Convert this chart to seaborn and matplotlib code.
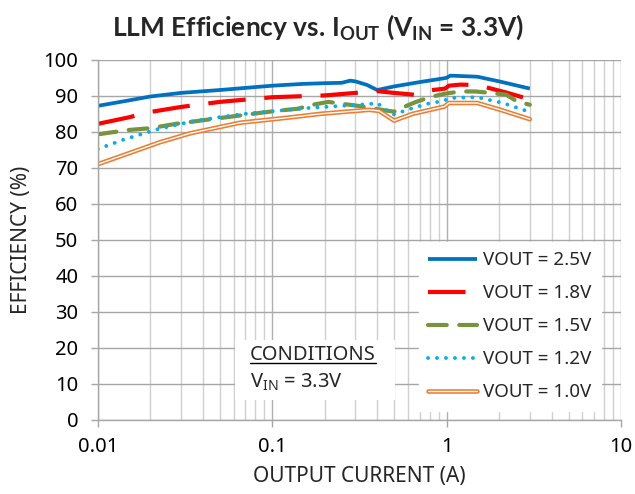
import matplotlib
matplotlib.use("Agg")
import matplotlib.pyplot as plt
import matplotlib.patheffects as pe
from matplotlib.patches import Rectangle
from matplotlib.lines import Line2D
from matplotlib.ticker import LogLocator, FixedLocator, NullFormatter
import seaborn as sns

# --- data ---
x_25 = [0.01, 0.015, 0.02, 0.03, 0.05, 0.1, 0.15, 0.2, 0.25, 0.28, 0.3, 0.35, 0.4,
        0.5, 0.7, 0.95, 1.0, 1.05, 1.5, 2.0, 3.0]
eff_25 = [87.2, 88.7, 89.8, 90.8, 91.6, 92.8, 93.3, 93.5, 93.6, 94.2, 94.0, 93.0, 91.6,
          92.6, 93.8, 94.8, 95.0, 95.6, 95.3, 94.0, 92.0]

x_18 = [0.01, 0.015, 0.02, 0.03, 0.05, 0.1, 0.2, 0.3, 0.4, 0.5, 0.65, 0.8, 0.98,
        1.03, 1.2, 1.5, 2.2, 3.0]
eff_18 = [82.2, 84.0, 85.5, 86.9, 88.3, 89.6, 90.1, 90.8, 91.3, 90.8, 90.3, 91.5, 92.0,
          92.8, 93.1, 93.0, 90.9, 89.0]

x_15 = [0.01, 0.015, 0.02, 0.028, 0.04, 0.06, 0.09, 0.11, 0.14, 0.17, 0.21, 0.25, 0.31,
        0.37, 0.45, 0.5, 0.55, 0.66, 0.8, 0.98, 1.2, 1.45, 1.7, 2.2, 2.5, 3.0]
eff_15 = [79.3, 80.5, 81.0, 82.2, 83.2, 84.3, 85.4, 85.9, 86.4, 87.5, 88.3, 87.8, 87.2,
          86.6, 85.9, 85.6, 86.6, 88.2, 89.6, 90.6, 91.2, 91.2, 90.9, 90.3, 88.6, 87.5]

x_12 = [0.01, 0.014, 0.0174, 0.022, 0.028, 0.035, 0.049, 0.07, 0.1, 0.16, 0.25, 0.36,
        0.4, 0.49, 0.64, 0.78, 0.96, 1.05, 1.5, 2.1, 3.0]
eff_12 = [75.2, 77.8, 79.2, 80.7, 81.9, 82.9, 84.0, 85.0, 85.7, 86.6, 87.2, 87.7,
          88.0, 84.7, 86.6, 87.8, 88.6, 89.4, 89.6, 88.0, 85.5]

x_10 = [0.01, 0.015, 0.0227, 0.034, 0.065, 0.127, 0.19, 0.36, 0.41, 0.5, 0.64, 0.97,
        1.03, 1.5, 2.1, 3.0]
eff_10 = [71.0, 74.0, 77.1, 79.6, 82.5, 84.0, 85.0, 86.1, 85.8, 83.1, 85.0, 87.0,
          88.0, 88.0, 85.9, 83.5]

labels = ["VOUT = 2.5V", "VOUT = 1.8V", "VOUT = 1.5V", "VOUT = 1.2V", "VOUT = 1.0V"]

sns.set_theme(style="white")
plt.rcParams["font.family"] = ["Noto Sans", "DejaVu Sans"]
plt.rcParams["mathtext.fontset"] = "custom"
plt.rcParams["mathtext.rm"] = "Noto Sans"
plt.rcParams["mathtext.bf"] = "Lato:bold"
plt.rcParams["mathtext.it"] = "Noto Sans:italic"

fig = plt.figure(figsize=(6.35, 4.94), dpi=100)
ax = fig.add_axes([0.154, 0.150, 0.824, 0.729])

sns.lineplot(x=x_25, y=eff_25, ax=ax, color="#0070C0", lw=2.7, label=labels[0],
             solid_capstyle="butt")
sns.lineplot(x=x_18, y=eff_18, ax=ax, color="#FF0000", lw=3.0, label=labels[1],
             linestyle=(0, (9, 4.5)), dash_capstyle="butt")
sns.lineplot(x=x_15, y=eff_15, ax=ax, color="#77933C", lw=3.0, label=labels[2],
             linestyle=(0, (4.5, 3)), dash_capstyle="round")
sns.lineplot(x=x_12, y=eff_12, ax=ax, color="#00B0F0", lw=2.8, label=labels[3],
             linestyle=(0, (0.01, 2.3)), dash_capstyle="round")
sns.lineplot(x=x_10, y=eff_10, ax=ax, color="white", lw=1.0, label=labels[4],
             path_effects=[pe.Stroke(linewidth=3.3, foreground="#ED7D31"), pe.Normal()])

ax.set_xscale("log")
ax.set_xlim(0.01, 10)
ax.set_ylim(0, 100)
ax.yaxis.set_major_locator(FixedLocator(range(0, 101, 10)))
ax.xaxis.set_major_locator(FixedLocator([0.01, 0.1, 1, 10]))
ax.set_xticklabels(["0.01", "0.1", "1", "10"])
ax.xaxis.set_minor_locator(LogLocator(base=10, subs=range(2, 10)))
ax.xaxis.set_minor_formatter(NullFormatter())

ax.grid(True, which="major", axis="y", color="#a6a6a6", lw=1.0)
ax.grid(True, which="major", axis="x", color="#b0b0b0", lw=1.0)
ax.grid(True, which="minor", axis="x", color="#d0d0d0", lw=1.0)
ax.set_axisbelow(True)

for s in ["top", "right"]:
    ax.spines[s].set_visible(False)
for s in ["left", "bottom"]:
    ax.spines[s].set_color("#a6a6a6")
    ax.spines[s].set_linewidth(1.0)

ax.tick_params(axis="both", which="major", direction="out", length=5, width=1,
               color="#a6a6a6", labelsize=14.5, labelcolor="black")
ax.tick_params(axis="y", which="major", pad=9)
ax.tick_params(axis="x", which="major", pad=7)
ax.tick_params(axis="x", which="minor", length=0)
ax.tick_params(left=True, bottom=True)

ax.set_xlabel("OUTPUT CURRENT (A)", fontsize=15, labelpad=7)
ax.set_ylabel("EFFICIENCY (%)", fontsize=15, labelpad=8)

fig.suptitle(r"LLM Efficiency vs. I$_{\mathbf{OUT}}$ (V$_{\mathbf{IN}}$ = 3.3V)",
             x=0.5, y=0.975, fontsize=19, fontweight="bold", family="Lato")

leg = ax.legend(loc="lower right", bbox_to_anchor=(0.98, 0.0), fontsize=13.5,
                frameon=True, fancybox=False, framealpha=1, edgecolor="white",
                handlelength=2.6, handletextpad=0.35, labelspacing=0.8,
                borderpad=0.5)

# conditions box
ax.add_patch(Rectangle((0.262, 0.056), 0.306, 0.166, transform=ax.transAxes,
                       facecolor="white", edgecolor="none", zorder=3))
t_cond = ax.text(0.291, 0.181, "CONDITIONS", transform=ax.transAxes, fontsize=14.5,
                 va="center", ha="left", zorder=4)
ax.text(0.291, 0.103, r"V$_{\mathrm{IN}}$ = 3.3V", transform=ax.transAxes, fontsize=14.5,
        va="center", ha="left", zorder=4)

fig.canvas.draw()
bb = t_cond.get_window_extent().transformed(fig.transFigure.inverted())
fig.add_artist(Line2D([bb.x0, bb.x1], [bb.y0 + 0.004, bb.y0 + 0.004],
                      transform=fig.transFigure, color="black", lw=1.0))

fig.savefig("out.png", dpi=100)
